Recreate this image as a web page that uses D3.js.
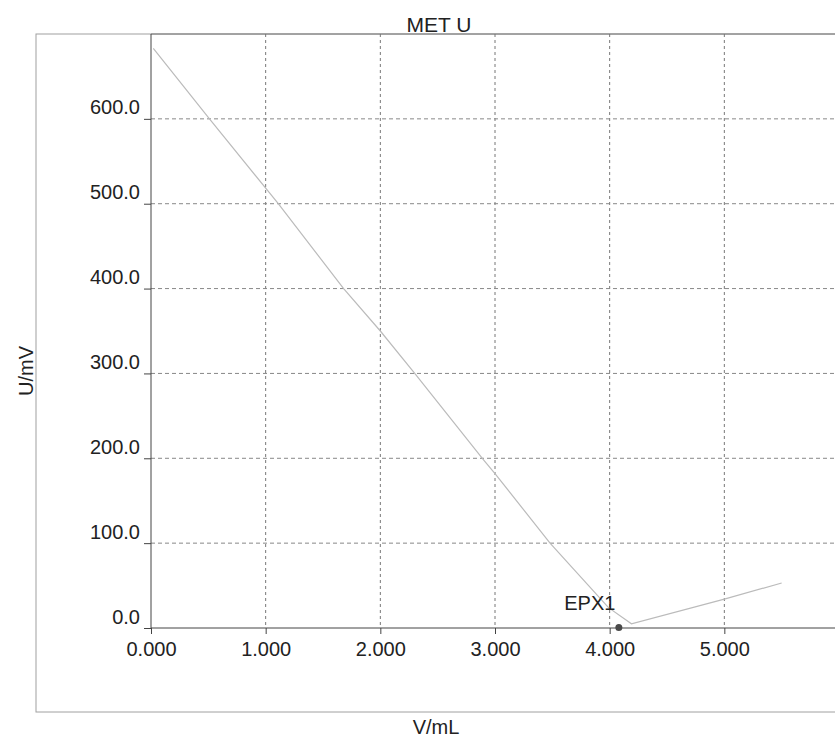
<!DOCTYPE html>
<html>
<head>
<meta charset="utf-8">
<script src="https://cdn.jsdelivr.net/npm/d3@7"></script>
<style>
  html, body { margin: 0; padding: 0; background: #fff; overflow: hidden; }
  svg { display: block; font-family: Arial, "Liberation Sans", sans-serif; }
</style>
</head>
<body>
<svg id="chart" width="835" height="742"></svg>
<script>
// ---- data ----
const volumeML = [0.02, 0.51, 1.11, 1.68, 2.00, 2.30, 2.90, 3.00, 3.48, 3.99, 4.19, 5.00, 5.50];
const potentialMV = [683, 600, 500, 400, 350, 300, 198, 182, 100, 24, 5, 34, 53];
const endPointLabel = ["EPX1"];
const endPointVolume = [4.08];
const endPointPotential = [0];
const xTickValues = [0, 1, 2, 3, 4, 5, 6];
const yTickValues = [0, 100, 200, 300, 400, 500, 600];
const titleText = "MET U";
const xLabelText = "V/mL";
const yLabelText = "U/mV";

// ---- layout ----
const svg = d3.select("#chart");
const plot = { left: 151, right: 839, top: 34, bottom: 628 };
const frame = { left: 36, right: 850, top: 34, bottom: 712 };

const x = d3.scaleLinear().domain([0, 6]).range([plot.left, plot.right]);
const y = d3.scaleLinear().domain([0, 700]).range([plot.bottom, plot.top]);

// outer frame
svg.append("rect")
  .attr("x", frame.left).attr("y", frame.top)
  .attr("width", frame.right - frame.left).attr("height", frame.bottom - frame.top)
  .attr("fill", "none").attr("stroke", "#a0a0a0").attr("stroke-width", 1);

// gridlines
const grid = svg.append("g").attr("class", "grid");
grid.selectAll("line.v").data(xTickValues.filter(d => d > 0)).join("line")
  .attr("class", "v")
  .attr("x1", d => x(d)).attr("x2", d => x(d))
  .attr("y1", plot.top).attr("y2", plot.bottom)
  .attr("stroke", "#777").attr("stroke-width", 1)
  .attr("stroke-dasharray", "3,3");
grid.selectAll("line.h").data(yTickValues.filter(d => d > 0)).join("line")
  .attr("class", "h")
  .attr("x1", plot.left).attr("x2", plot.right)
  .attr("y1", d => y(d)).attr("y2", d => y(d))
  .attr("stroke", "#888").attr("stroke-width", 1)
  .attr("stroke-dasharray", "4,3");

// plot area top border
svg.append("line")
  .attr("x1", plot.left).attr("x2", plot.right)
  .attr("y1", plot.top).attr("y2", plot.top)
  .attr("stroke", "#777").attr("stroke-width", 1);

// axes
const xAxis = d3.axisBottom(x).tickValues(xTickValues.filter(d => d < 6))
  .tickFormat(d3.format(".3f")).tickSize(6).tickPadding(8);
const gx = svg.append("g").attr("transform", `translate(0,${plot.bottom})`).call(xAxis);
gx.select(".domain").attr("stroke", "#444").attr("d", `M${plot.left},0H${plot.right + 20}`);
gx.selectAll(".tick line").attr("stroke", "#444");
gx.selectAll(".tick text").attr("fill", "#222").attr("font-size", 20)
  .attr("font-family", "Arial, 'Liberation Sans', sans-serif");

const yAxis = d3.axisLeft(y).tickValues(yTickValues)
  .tickFormat(d3.format(".1f")).tickSize(7).tickPadding(4);
const gy = svg.append("g").attr("transform", `translate(${plot.left},0)`).call(yAxis);
gy.select(".domain").attr("stroke", "#444").attr("d", `M0,${plot.top}V${plot.bottom}`);
gy.selectAll(".tick line").attr("stroke", "#444");
gy.selectAll(".tick text").attr("fill", "#222").attr("font-size", 20)
  .attr("font-family", "Arial, 'Liberation Sans', sans-serif")
  .attr("dy", "-0.25em");

// curve
const pts = volumeML.map((v, i) => [v, potentialMV[i]]);
svg.append("path")
  .datum(pts)
  .attr("fill", "none")
  .attr("stroke", "#bbbbbb")
  .attr("stroke-width", 1.2)
  .attr("d", d3.line().x(d => x(d[0])).y(d => y(d[1])));

// end point marker
const ep = endPointVolume.map((v, i) => ({ v, u: endPointPotential[i], label: endPointLabel[i] }));
svg.selectAll("circle.ep").data(ep).join("circle")
  .attr("class", "ep")
  .attr("cx", d => x(d.v)).attr("cy", d => y(d.u) - 0.5)
  .attr("r", 3.5).attr("fill", "#4a4a4a");
svg.selectAll("text.ep").data(ep).join("text")
  .attr("class", "ep")
  .attr("x", d => x(d.v) - 29).attr("y", d => y(d.u) - 18)
  .attr("text-anchor", "middle")
  .attr("font-size", 20).attr("fill", "#222")
  .text(d => d.label);

// title & axis labels
svg.append("text").attr("x", 439).attr("y", 32).attr("text-anchor", "middle")
  .attr("font-size", 21).attr("fill", "#222").text(titleText);
svg.append("text").attr("x", 436).attr("y", 734).attr("text-anchor", "middle")
  .attr("font-size", 20).attr("fill", "#222").text(xLabelText);
svg.append("text").attr("transform", "translate(33,371) rotate(-90)")
  .attr("text-anchor", "middle")
  .attr("font-size", 20).attr("fill", "#222").text(yLabelText);
</script>
</body>
</html>
